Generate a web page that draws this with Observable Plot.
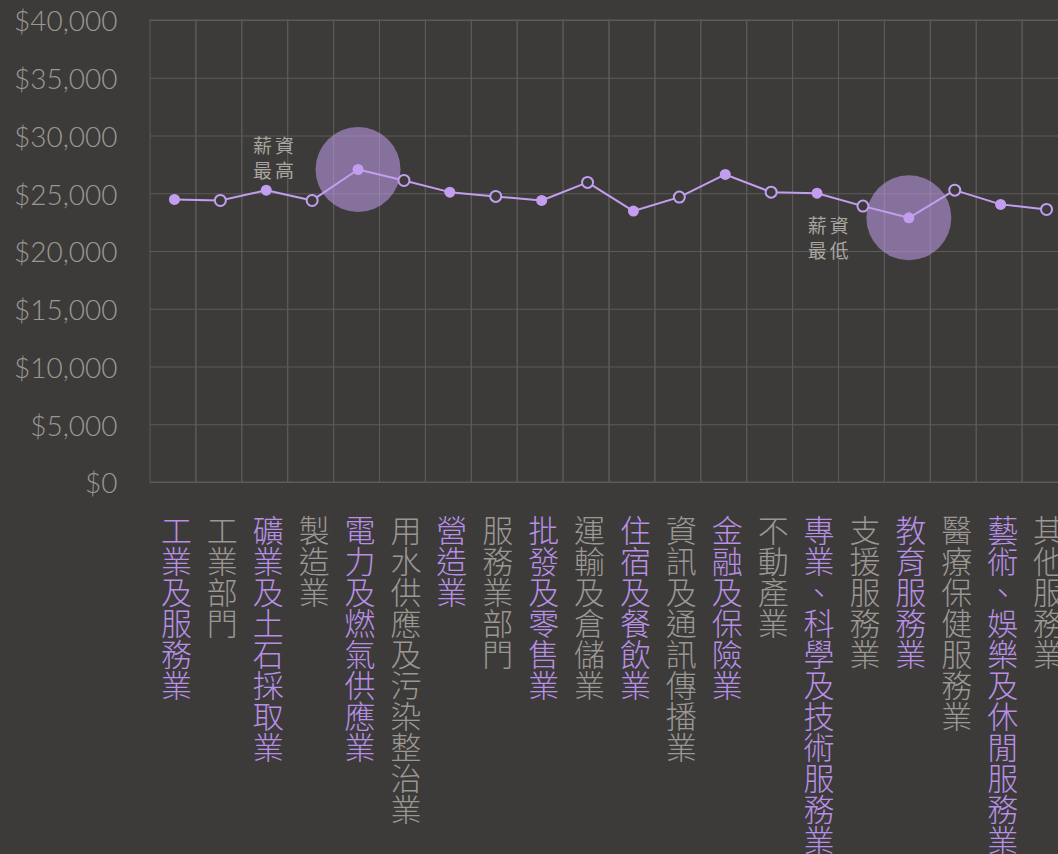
<!DOCTYPE html>
<html><head><meta charset="utf-8">
<script src="https://cdn.jsdelivr.net/npm/d3@7"></script>
<script src="https://cdn.jsdelivr.net/npm/@observablehq/plot@0.6"></script>
<style>
html,body{margin:0;padding:0;background:#3d3b39;overflow:hidden;}
#chart svg{max-width:none !important;}
</style></head><body><div id="chart"></div>
<script>
const industries = ["工業及服務業","工業部門","礦業及土石採取業","製造業","電力及燃氣供應業","用水供應及污染整治業","營造業","服務業部門","批發及零售業","運輸及倉儲業","住宿及餐飲業","資訊及通訊傳播業","金融及保險業","不動產業","專業、科學及技術服務業","支援服務業","教育服務業","醫療保健服務業","藝術、娛樂及休閒服務業","其他服務業"];
const wages = [24510, 24420, 25310, 24420, 27100, 26150, 25140, 24770, 24420, 25980, 23500, 24710, 26670, 25140, 25050, 23930, 22920, 25310, 24080, 23640];
const yTicks = [0, 5000, 10000, 15000, 20000, 25000, 30000, 35000, 40000];
const noteHigh = "薪資\n最高";
const noteLow = "薪資\n最低";

const bg = "#3d3b39", grid = "#5d5b59", purple = "#c39ef0";
const labelPurple = "#b88fe6", labelGrey = "#9b9894", noteGrey = "#a9a6a2";
const cjk = "'Noto Sans CJK TC', 'Noto Sans CJK SC', sans-serif";

const data = industries.map((name, i) => ({name, wage: wages[i], i}));
const maxD = d3.greatest(data, d => d.wage);
const minD = d3.least(data, d => d.wage);
const even = data.filter(d => d.i % 2 === 0);
const odd = data.filter(d => d.i % 2 === 1);
const fmt = d => "$" + d3.format(",")(d);

const chart = Plot.plot({
  width: 1068, height: 854,
  marginLeft: 150, marginRight: 0, marginTop: 20, marginBottom: 372,
  style: {background: bg, fontFamily: "Lato, 'Noto Sans', sans-serif", overflow: "visible", maxWidth: "none"},
  x: {type: "band", domain: industries, padding: 0, round: false, axis: null},
  y: {domain: [0, 40000], axis: null},
  marks: [
    Plot.cell(industries, {x: d => d, fill: "none", stroke: grid, strokeWidth: 1}),
    Plot.ruleY(yTicks, {stroke: grid, strokeWidth: 1}),
    Plot.text(yTicks, {y: d => d, frameAnchor: "left", text: fmt, textAnchor: "end", dx: -33, dy: 2, fontSize: 28, fontWeight: 300, fill: "#9b9894"}),
    Plot.dot([maxD, minD], {x: "name", y: "wage", r: 42.5, dx: 1, fill: purple, fillOpacity: 0.54}),
    Plot.line(data, {x: "name", y: "wage", dx: 1, stroke: purple, strokeWidth: 2}),
    Plot.dot(even, {x: "name", y: "wage", r: 5.5, dx: 1, fill: purple}),
    Plot.dot(odd, {x: "name", y: "wage", r: 5.5, dx: 1, fill: bg, stroke: purple, strokeWidth: 2}),
    Plot.text([maxD], {x: "name", y: "wage", text: () => noteHigh, dx: -82, dy: -12, fontSize: 19, lineHeight: 1.3, fill: noteGrey, fontFamily: cjk}),
    Plot.text([minD], {x: "name", y: "wage", text: () => noteLow, dx: -78, dy: 20, fontSize: 19, lineHeight: 1.3, fill: noteGrey, fontFamily: cjk}),
    Plot.text(even, {x: "name", frameAnchor: "bottom", text: "name", textAnchor: "start", dx: 3, dy: 32, fontSize: 31, fontWeight: 300, fill: labelPurple, fontFamily: cjk}),
    Plot.text(odd, {x: "name", frameAnchor: "bottom", text: "name", textAnchor: "start", dx: 3, dy: 32, fontSize: 31, fontWeight: 300, fill: labelGrey, fontFamily: cjk})
  ]
});
document.getElementById("chart").appendChild(chart);

const nameSet = new Set(industries);
chart.querySelectorAll("text").forEach(t => {
  if (nameSet.has(t.textContent)) {
    t.setAttribute("dy", "0");
    t.style.writingMode = "vertical-rl";
  }
  if (t.textContent.startsWith("薪資")) {
    t.style.letterSpacing = "3px";
  }
});
</script></body></html>
